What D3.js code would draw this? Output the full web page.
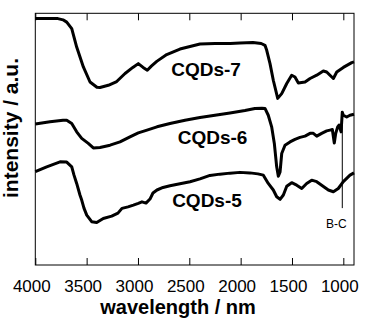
<!DOCTYPE html>
<html>
<head>
<meta charset="utf-8">
<script src="https://cdn.jsdelivr.net/npm/d3@7"></script>
<style>
  body { margin: 0; background: #fff; }
  text { font-family: "Liberation Sans", Arial, sans-serif; }
</style>
</head>
<body>
<script>
const width = 368
const height = 324
const margin = ({top: 13.3, right: 14, bottom: 59, left: 35.3})

// wavenumber / intensity (a.u.) pairs
const cqds7 = [[4000,97.9],[3780,97.9],[3730,97.4],[3694,96.5],[3645,93.9],[3597,86.6],[3532,78.7],[3467,72.7],[3400,70.6],[3370,70.5],[3289,71.4],[3207,72.9],[3126,76.1],[3050,78.5],[2997,80.0],[2950,78.5],[2909,77.4],[2870,79.0],[2817,80.9],[2720,83.6],[2591,85.8],[2493,86.8],[2396,87.8],[2250,88.0],[2100,88.0],[2007,88.2],[1880,88.4],[1800,88.0],[1763,87.3],[1746,85.3],[1714,80.0],[1682,73.4],[1639,66.2],[1600,68.1],[1551,72.1],[1503,75.4],[1471,74.7],[1438,72.3],[1373,72.7],[1324,74.1],[1259,75.4],[1195,77.1],[1162,76.7],[1130,75.4],[1097,74.1],[1064,76.7],[1000,78.5],[918,80.4],[896,80.7]]

const cqds6 = [[4000,56.0],[3857,56.9],[3730,57.5],[3694,57.5],[3645,56.2],[3597,52.9],[3548,50.3],[3484,48.3],[3435,46.5],[3370,46.7],[3272,47.6],[3175,48.9],[3078,50.9],[2997,52.5],[2912,53.6],[2815,54.9],[2688,56.2],[2542,57.5],[2396,58.6],[2250,59.5],[2104,60.4],[1958,61.4],[1861,62.2],[1793,62.3],[1763,62.2],[1731,59.5],[1698,54.9],[1672,48.3],[1649,39.0],[1633,35.3],[1616,37.0],[1600,44.3],[1568,47.6],[1519,48.9],[1471,49.9],[1422,50.7],[1373,51.2],[1324,52.3],[1292,52.3],[1259,51.2],[1211,52.3],[1162,53.3],[1130,53.6],[1107,53.8],[1088,48.5],[1074,52.3],[1055,54.9],[1042,55.6],[1022,52.9],[1010,60.7],[1000,59.5],[967,58.8],[935,59.5],[896,59.9]]

const cqds5 = [[4000,37.1],[3889,39.0],[3759,41.0],[3694,40.9],[3645,39.0],[3623,35.7],[3597,32.4],[3565,27.8],[3548,25.8],[3526,22.6],[3499,19.8],[3451,17.2],[3402,16.9],[3338,18.5],[3256,19.4],[3195,20.6],[3156,22.5],[3097,23.1],[3045,23.8],[2997,24.5],[2961,25.1],[2922,24.6],[2883,26.2],[2854,28.6],[2815,29.8],[2756,30.8],[2688,31.5],[2591,32.3],[2493,33.1],[2396,34.2],[2299,35.6],[2202,36.1],[2104,36.5],[2007,36.8],[1910,36.6],[1832,36.2],[1779,35.7],[1731,32.4],[1682,29.8],[1649,27.1],[1616,26.1],[1584,27.8],[1551,31.3],[1503,32.7],[1454,31.7],[1405,30.4],[1357,32.4],[1308,33.7],[1259,33.1],[1211,31.7],[1146,29.8],[1097,29.1],[1049,30.4],[1000,33.1],[935,35.7],[896,36.6]]

const seriesNames = ["CQDs-7", "CQDs-6", "CQDs-5"]
const labelPos = [[2337, 75.2], [2274, 48.0], [2328, 23.0]]
const xTicks = [4000, 3500, 3000, 2500, 2000, 1500, 1000]
const bcWave = 1010
const bcRange = [22.6, 61.0]

const svg = d3.select("body").append("svg").attr("width", width).attr("height", height)

const x = d3.scaleLinear()
    .domain([4000, 896])
    .range([margin.left, width - margin.right])

const y = d3.scaleLinear()
    .domain([0, 100])
    .range([height - margin.bottom, margin.top])

svg.append("g")
    .attr("transform", `translate(0,${height - margin.bottom})`)
    .call(d3.axisBottom(x).tickValues(xTicks).tickSize(-7).tickPadding(15).tickFormat(d3.format("d")))
    .call(g => g.select(".domain").remove())
    .call(g => g.selectAll(".tick text")
        .attr("font-size", 17)
        .attr("font-family", "Liberation Sans, Arial, sans-serif")
        .attr("fill", "#000")
        .attr("dx", -4))

svg.append("g")
    .attr("transform", `translate(0,${margin.top})`)
    .call(d3.axisTop(x).tickValues(xTicks).tickSize(-7).tickFormat(""))
    .call(g => g.select(".domain").remove())

svg.append("rect")
    .attr("x", margin.left)
    .attr("y", margin.top)
    .attr("width", width - margin.right - margin.left)
    .attr("height", height - margin.bottom - margin.top)
    .attr("fill", "none")
    .attr("stroke", "#000")
    .attr("stroke-width", 1)

const line = d3.line()
    .x(d => x(d[0]))
    .y(d => y(d[1]))

svg.append("g")
    .attr("fill", "none")
    .attr("stroke", "#000")
    .attr("stroke-width", 3)
    .attr("stroke-linejoin", "round")
  .selectAll("path")
  .data([cqds7, cqds6, cqds5])
  .join("path")
    .attr("d", line)

svg.append("line")
    .attr("x1", x(bcWave)).attr("x2", x(bcWave))
    .attr("y1", y(bcRange[1])).attr("y2", y(bcRange[0]))
    .attr("stroke", "#000")
    .attr("stroke-width", 1)

svg.append("text")
    .attr("x", x(bcWave) - 6)
    .attr("y", 228)
    .attr("text-anchor", "middle")
    .attr("font-size", 12)
    .text("B-C")

svg.append("g")
    .attr("font-size", 19)
    .attr("font-weight", "bold")
    .attr("text-anchor", "middle")
  .selectAll("text")
  .data(seriesNames)
  .join("text")
    .attr("x", (d, i) => x(labelPos[i][0]))
    .attr("y", (d, i) => y(labelPos[i][1]))
    .text(d => d)

svg.append("text")
    .attr("x", 178)
    .attr("y", 314)
    .attr("text-anchor", "middle")
    .attr("font-size", 20)
    .attr("font-weight", "bold")
    .text("wavelength / nm")

svg.append("text")
    .attr("transform", "translate(18,128) rotate(-90)")
    .attr("text-anchor", "middle")
    .attr("font-size", 21)
    .attr("font-weight", "bold")
    .text("intensity / a.u.")
</script>
</body>
</html>
